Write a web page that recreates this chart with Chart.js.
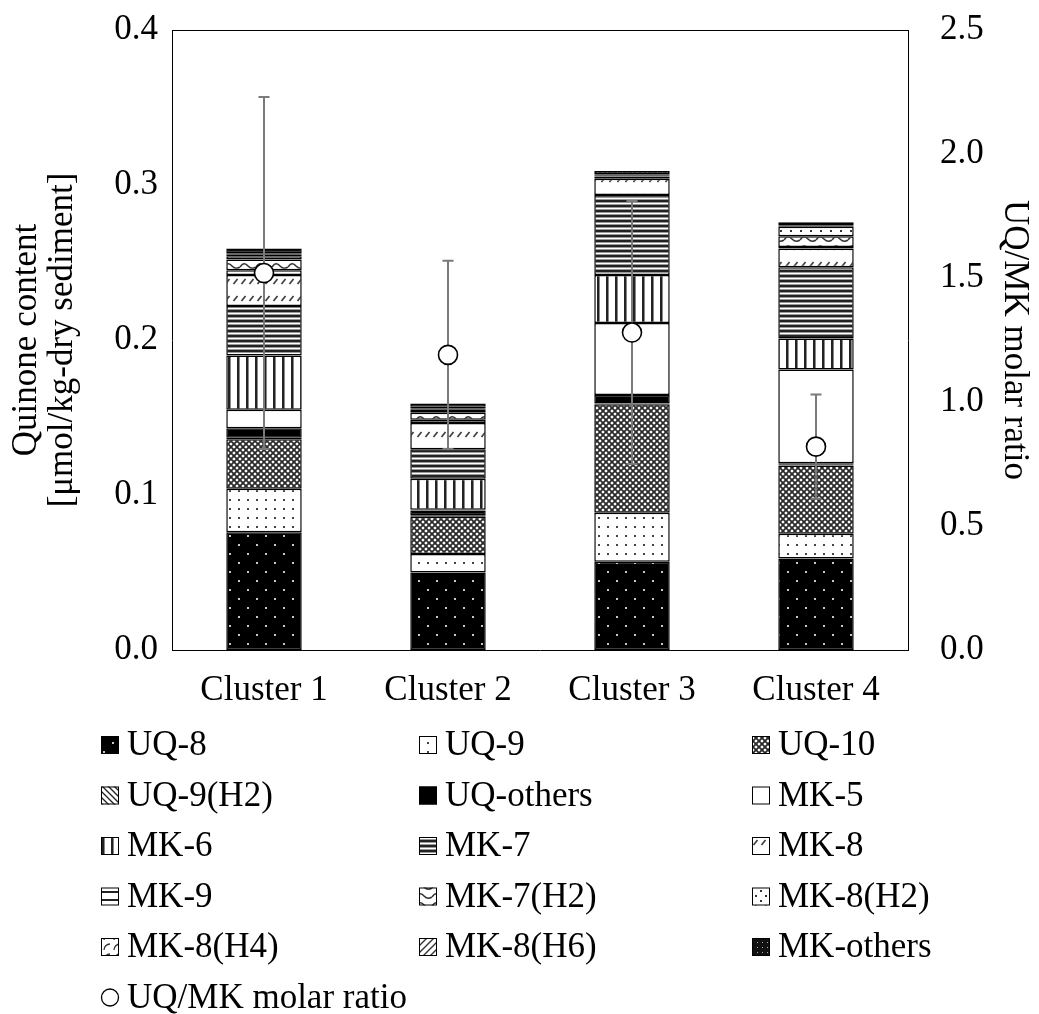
<!DOCTYPE html>
<html>
<head>
<meta charset="utf-8">
<script src="https://cdn.jsdelivr.net/npm/chart.js@4.4.1/dist/chart.umd.min.js"></script>
<style>
  html, body { margin: 0; padding: 0; background: #fff; }
  #wrap { width: 1039px; height: 1014px; position: relative; }
</style>
</head>
<body>
<div id="wrap"><canvas id="c" width="1039" height="1014"></canvas></div>
<script>
// Quinone composition per cluster (µmol/kg-dry sediment), stacked bottom to top
const categories = ['Cluster 1', 'Cluster 2', 'Cluster 3', 'Cluster 4'];
const uq8      = [0.076, 0.050, 0.057, 0.059];
const uq9      = [0.028, 0.012, 0.0315, 0.016];
const uq10     = [0.032, 0.024, 0.070, 0.044];
const uq9h2    = [0.001, 0.001, 0.0005, 0.0005];
const uqOthers = [0.006, 0.003, 0.0055, 0.001];
const mk5      = [0.012, 0.0005, 0.0465, 0.0605];
const mk6      = [0.035, 0.020, 0.031, 0.020];
const mk7      = [0.032, 0.019, 0.0515, 0.046];
const mk8      = [0.020, 0.017, 0.0105, 0.012];
const mk9      = [0.003, 0.002, 0.0005, 0.001];
const mk7h2    = [0.007, 0.0045, 0.001, 0.007];
const mk8h2    = [0.002, 0.002, 0.0005, 0.006];
const mk8h4    = [0.001, 0.001, 0.0005, 0.0005];
const mk8h6    = [0.001, 0.001, 0.0005, 0.0005];
const mkOthers = [0.003, 0.002, 0.002, 0.002];

// UQ/MK molar ratio (right axis) with its standard deviation
const ratio    = [1.52, 1.19, 1.28, 0.82];
const ratioErr = [0.71, 0.38, 0.53, 0.21];

// Axis ranges
const leftAxis  = { min: 0, max: 0.4, step: 0.1 };
const rightAxis = { min: 0, max: 2.5, step: 0.5 };

const FONT = "'Liberation Serif', 'Times New Roman', serif";
const FS = 35;

// ---- fill patterns ---------------------------------------------------------
function tile(w, h, draw) {
  const c = document.createElement('canvas');
  c.width = w; c.height = h;
  const g = c.getContext('2d');
  draw(g, w, h);
  return document.getElementById('c').getContext('2d').createPattern(c, 'repeat');
}
function bg(g, w, h, col) { g.fillStyle = col; g.fillRect(0, 0, w, h); }

const patterns = {
  uq8: tile(18, 18, (g, w, h) => {
    bg(g, w, h, '#000'); g.fillStyle = '#c8c8c8';
    g.fillRect(4, 4, 2, 2); g.fillRect(13, 13, 2, 2);
  }),
  uq9: tile(9, 9, (g, w, h) => {
    bg(g, w, h, '#fff'); g.fillStyle = '#444';
    g.fillRect(4, 4, 2, 2);
  }),
  uq10: tile(6, 6, (g, w, h) => {
    bg(g, w, h, '#fff'); g.strokeStyle = '#2a2a2a'; g.lineWidth = 1.8;
    g.beginPath();
    g.moveTo(-1, -1); g.lineTo(7, 7);
    g.moveTo(-1, 7); g.lineTo(7, -1);
    g.stroke();
  }),
  uq9h2: tile(6, 6, (g, w, h) => {
    bg(g, w, h, '#fff'); g.strokeStyle = '#222'; g.lineWidth = 1.3;
    g.beginPath();
    g.moveTo(-1, -1); g.lineTo(7, 7);
    g.moveTo(-4, 2); g.lineTo(2, 8);
    g.moveTo(2, -4); g.lineTo(8, 2);
    g.stroke();
  }),
  uqOthers: '#000',
  mk5: '#fff',
  mk6: tile(9, 9, (g, w, h) => {
    bg(g, w, h, '#fff');
    g.fillStyle = '#222'; g.fillRect(3, 0, 2, h);
    g.fillStyle = '#888'; g.fillRect(5, 0, 1, h);
  }),
  mk7: tile(5, 5, (g, w, h) => {
    bg(g, w, h, '#fff');
    g.fillStyle = '#222'; g.fillRect(0, 0, w, 2);
    g.fillStyle = '#999'; g.fillRect(0, 2, w, 1); g.fillRect(0, 4, w, 1);
  }),
  mk8: tile(8, 17, (g, w, h) => {
    bg(g, w, h, '#fff'); g.strokeStyle = '#444'; g.lineWidth = 1.8;
    g.beginPath(); g.moveTo(1.5, 12); g.lineTo(5.5, 7); g.stroke();
  }),
  mk9: tile(8, 8, (g, w, h) => {
    bg(g, w, h, '#fff'); g.fillStyle = '#222'; g.fillRect(0, 3, w, 2);
  }),
  mk7h2: tile(16, 9, (g, w, h) => {
    bg(g, w, h, '#fff'); g.strokeStyle = '#333'; g.lineWidth = 1.6;
    g.beginPath();
    g.moveTo(0, 6); g.quadraticCurveTo(4, 0, 8, 5); g.quadraticCurveTo(12, 9, 16, 6);
    g.stroke();
  }),
  mk8h2: tile(10, 10, (g, w, h) => {
    bg(g, w, h, '#fff'); g.fillStyle = '#333';
    g.fillRect(0, 0, 2, 2); g.fillRect(5, 5, 2, 2);
  }),
  mk8h4: tile(10, 10, (g, w, h) => {
    bg(g, w, h, '#fff'); g.strokeStyle = '#333'; g.lineWidth = 1.3;
    g.beginPath(); g.arc(10, 10, 6, Math.PI, 1.5 * Math.PI); g.stroke();
  }),
  mk8h6: tile(7, 7, (g, w, h) => {
    bg(g, w, h, '#fff'); g.strokeStyle = '#333'; g.lineWidth = 1.4;
    g.beginPath();
    g.moveTo(-1, 8); g.lineTo(8, -1);
    g.moveTo(-4, 4); g.lineTo(4, -4);
    g.moveTo(3, 11); g.lineTo(11, 3);
    g.stroke();
  }),
  mkOthers: tile(5, 5, (g, w, h) => {
    bg(g, w, h, '#111'); g.fillStyle = '#aaa'; g.fillRect(2, 2, 1, 1);
  })
};

const stackSeries = [
  ['UQ-8', uq8, patterns.uq8],
  ['UQ-9', uq9, patterns.uq9],
  ['UQ-10', uq10, patterns.uq10],
  ['UQ-9(H2)', uq9h2, patterns.uq9h2],
  ['UQ-others', uqOthers, patterns.uqOthers],
  ['MK-5', mk5, patterns.mk5],
  ['MK-6', mk6, patterns.mk6],
  ['MK-7', mk7, patterns.mk7],
  ['MK-8', mk8, patterns.mk8],
  ['MK-9', mk9, patterns.mk9],
  ['MK-7(H2)', mk7h2, patterns.mk7h2],
  ['MK-8(H2)', mk8h2, patterns.mk8h2],
  ['MK-8(H4)', mk8h4, patterns.mk8h4],
  ['MK-8(H6)', mk8h6, patterns.mk8h6],
  ['MK-others', mkOthers, patterns.mkOthers]
];

const datasets = stackSeries.map(([label, data, fill]) => ({
  type: 'bar',
  label, data,
  backgroundColor: fill,
  borderColor: '#000',
  borderWidth: 1.5,
  borderSkipped: false,
  stack: 'q',
  yAxisID: 'y',
  barPercentage: 0.41,
  categoryPercentage: 1.0,
  order: 2
}));

datasets.push({
  type: 'line',
  label: 'UQ/MK molar ratio',
  data: ratio,
  yAxisID: 'y1',
  showLine: false,
  pointStyle: 'circle',
  pointRadius: 9.5,
  pointHoverRadius: 9.5,
  pointBackgroundColor: '#fff',
  pointBorderColor: '#000',
  pointBorderWidth: 1.6,
  order: 0
});

// Error bars for the ratio series, drawn just before its markers
const errorBars = {
  id: 'errorBars',
  beforeDatasetDraw(chart, args) {
    const ds = chart.data.datasets[args.index];
    if (ds.type !== 'line') return;
    const xs = chart.scales.x, ys = chart.scales.y1, ctx = chart.ctx;
    ctx.save();
    ctx.strokeStyle = '#7a7a7a';
    ctx.lineWidth = 2;
    ratio.forEach((v, i) => {
      const x = xs.getPixelForValue(i);
      const yt = ys.getPixelForValue(v + ratioErr[i]);
      const yb = ys.getPixelForValue(v - ratioErr[i]);
      ctx.beginPath();
      ctx.moveTo(x, yt); ctx.lineTo(x, yb);
      ctx.moveTo(x - 5.5, yt); ctx.lineTo(x + 5.5, yt);
      ctx.moveTo(x - 5.5, yb); ctx.lineTo(x + 5.5, yb);
      ctx.stroke();
    });
    ctx.restore();
  }
};

// Top edge of the plot frame
const frame = {
  id: 'frame',
  afterDraw(chart) {
    const a = chart.chartArea, ctx = chart.ctx;
    ctx.save();
    ctx.strokeStyle = '#000'; ctx.lineWidth = 1;
    ctx.beginPath(); ctx.moveTo(a.left, a.top + 0.5); ctx.lineTo(a.right, a.top + 0.5); ctx.stroke();
    ctx.restore();
  }
};

// Three-column legend under the plot
const gridLegend = {
  id: 'gridLegend',
  afterDraw(chart) {
    const ctx = chart.ctx;
    const colX = [101, 419, 752];
    const rowY0 = 745, rowH = 50.5, box = 18;
    ctx.save();
    ctx.font = FS + 'px ' + FONT;
    ctx.textBaseline = 'middle';
    ctx.fillStyle = '#000';
    chart.data.datasets.forEach((ds, i) => {
      const col = i % 3, row = Math.floor(i / 3);
      const x = colX[col], y = rowY0 + row * rowH;
      if (ds.type === 'line') {
        ctx.beginPath();
        ctx.arc(x + box / 2, y, 8.5, 0, Math.PI * 2);
        ctx.fillStyle = '#fff'; ctx.fill();
        ctx.strokeStyle = '#000'; ctx.lineWidth = 1.3; ctx.stroke();
      } else {
        ctx.fillStyle = ds.backgroundColor;
        ctx.fillRect(x, y - box / 2, box, box);
        ctx.strokeStyle = '#000'; ctx.lineWidth = 1;
        ctx.strokeRect(x + 0.5, y - box / 2 + 0.5, box - 1, box - 1);
      }
      ctx.fillStyle = '#000';
      ctx.fillText(ds.label, x + box + 8, y + 1);
    });
    ctx.restore();
  }
};

Chart.defaults.font.family = FONT;
Chart.defaults.color = '#000';

new Chart(document.getElementById('c'), {
  data: { labels: categories, datasets },
  options: {
    responsive: false,
    animation: false,
    events: [],
    layout: { padding: { top: 30, left: 0, right: 0, bottom: 300 } },
    plugins: { legend: { display: false }, tooltip: { enabled: false } },
    scales: {
      x: {
        stacked: true,
        grid: { display: false, drawTicks: false },
        border: { display: true, color: '#000', width: 1 },
        ticks: { font: { size: FS }, padding: 20, color: '#000' },
        afterFit(s) { s.height = 64; }
      },
      y: {
        position: 'left',
        stacked: true,
        min: leftAxis.min, max: leftAxis.max,
        grid: { display: false, drawTicks: true, tickLength: 10 },
        border: { display: true, color: '#000', width: 1 },
        ticks: {
          stepSize: leftAxis.step, font: { size: FS }, padding: 4, color: '#000',
          callback: v => v.toFixed(1)
        },
        title: {
          display: true,
          text: ['Quinone content', '[\u03bcmol/kg-dry sediment]'],
          font: { size: FS, lineHeight: 1.02 },
          padding: { top: 9, bottom: 0 },
          color: '#000'
        },
        afterFit(s) { s.width = 172; }
      },
      y1: {
        position: 'right',
        min: rightAxis.min, max: rightAxis.max,
        grid: { display: false, drawTicks: true, tickLength: 28 },
        border: { display: true, color: '#000', width: 1 },
        ticks: {
          stepSize: rightAxis.step, font: { size: FS }, padding: 4, color: '#000',
          callback: v => v.toFixed(1)
        },
        title: {
          display: true,
          text: 'UQ/MK molar ratio',
          font: { size: FS, lineHeight: 1.05 },
          padding: { top: 6, bottom: 0 },
          color: '#000'
        },
        afterFit(s) { s.width = 131; }
      }
    }
  },
  plugins: [errorBars, frame, gridLegend]
});
</script>
</body>
</html>
